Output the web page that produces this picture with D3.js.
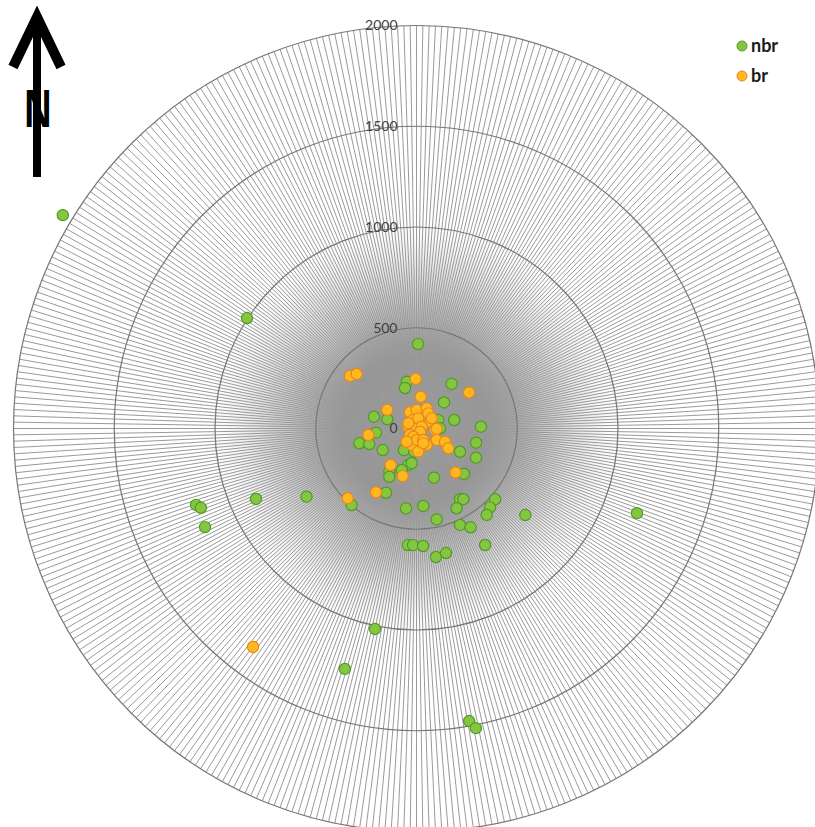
<!DOCTYPE html>
<html>
<head>
<meta charset="utf-8">
<script src="https://cdn.jsdelivr.net/npm/d3@7"></script>
<style>
  html, body { margin: 0; padding: 0; background: #ffffff; }
  svg { display: block; }
</style>
</head>
<body>
<svg id="chart" width="815" height="827"></svg>
<script>
// ---- data (bearing in degrees clockwise from north, distance in axis units) ----
const ringValues = [0, 500, 1000, 1500, 2000];
const ringLabels = ["0", "500", "1000", "1500", "2000"];
const spokeCount = 400;

const nbrBearing = [301.1, 303.1, 1.0, 348.2, 344.1, 38.3, 46.6, 285.5, 287.5, 77.3,
  88.4, 68.7, 89.5, 264.1, 255.5, 251.8, 237.5, 210.2, 185.4, 118.1,
  103.4, 116.1, 192.7, 187.9, 212.2, 209.4, 199.6, 160.4, 133.8, 238.2,
  220.3, 205.4, 187.5, 175.0, 167.5, 148.4, 146.5, 153.3, 132.0, 137.0,
  140.9, 128.5, 155.7, 151.3, 111.0, 149.5, 184.2, 181.7, 176.8, 171.4,
  166.7, 250.9, 249.8, 245.0, 246.3, 191.7, 196.6, 169.8, 168.8];
const nbrDistance = [2050, 1004, 419, 237, 209, 282, 188, 219, 152, 192,
  320, 116, 117, 202, 293, 247, 199, 124, 116, 245,
  304, 329, 186, 174, 253, 275, 219, 259, 326, 642,
  498, 353, 400, 386, 462, 412, 421, 443, 525, 535,
  553, 690, 525, 559, 1172, 671, 580, 579, 584, 645,
  635, 1158, 1140, 1158, 870, 1016, 1245, 1475, 1516];

const brBearing = [308.3, 312.3, 359.1, 55.6, 7.5, 302.4, 262.3, 215.3, 196.2, 138.4,
  224.6, 212.4, 216.8, 338.1, 0.6, 26.8, 339.4, 10.0, 63.3, 282.4,
  266.0, 70.9, 225.0, 164.5, 94.6, 119.7, 114.8, 121.9, 175.1, 196.2,
  148.3, 37.8, 302.4, 132.0, 201.0, 179.0, 149.4, 56.1, 90.6, 175.6,
  155.3, 216.6];
const brDistance = [420, 402, 246, 316, 159, 172, 241, 222, 246, 292,
  486, 375, 1354, 87, 92, 112, 45, 51, 75, 42,
  16, 27, 46, 33, 92, 115, 156, 186, 104, 85,
  96, 95, 48, 24, 44, 57, 66, 91, 100, 115,
  81, 82];

const seriesNames = ["nbr", "br"];
const seriesColors = [
  { fill: "#86c540", stroke: "#4e9a2a" },
  { fill: "#ffb81f", stroke: "#e8871a" }
];

// ---- layout ----
const svg = d3.select("#chart");
const cx = 416.5, cy = 428.5, outerR = 403;

const rScale = d3.scaleLinear().domain([0, 2000]).range([0, outerR]);
const aScale = d3.scaleLinear().domain([0, 360]).range([0, 2 * Math.PI]);
const px = (b, d) => cx + rScale(d) * Math.sin(aScale(b));
const py = (b, d) => cy - rScale(d) * Math.cos(aScale(b));

// radial shading that mimics the dense spoke convergence at the centre
const defs = svg.append("defs");
const grad = defs.append("radialGradient").attr("id", "hub");
grad.append("stop").attr("offset", "0%").attr("stop-color", "#8a8a8a").attr("stop-opacity", 1);
grad.append("stop").attr("offset", "35%").attr("stop-color", "#909090").attr("stop-opacity", 1);
grad.append("stop").attr("offset", "70%").attr("stop-color", "#a8a8a8").attr("stop-opacity", 0.5);
grad.append("stop").attr("offset", "100%").attr("stop-color", "#cfcfcf").attr("stop-opacity", 0);

const g = svg.append("g");

g.append("circle")
  .attr("cx", cx).attr("cy", cy)
  .attr("r", rScale(1000))
  .attr("fill", "url(#hub)");

// spokes
const spokeAngle = d3.scaleLinear().domain([0, spokeCount]).range([0, 360]);
g.append("g").selectAll("line")
  .data(d3.range(spokeCount))
  .join("line")
  .attr("x1", cx).attr("y1", cy)
  .attr("x2", i => px(spokeAngle(i), 2000))
  .attr("y2", i => py(spokeAngle(i), 2000))
  .attr("stroke", "#9a9a9a")
  .attr("stroke-width", 1);

// rings
g.append("g").selectAll("circle")
  .data(ringValues.filter(v => v > 0))
  .join("circle")
  .attr("cx", cx).attr("cy", cy)
  .attr("r", v => rScale(v))
  .attr("fill", "none")
  .attr("stroke", "#777777")
  .attr("stroke-width", 1.2);

// ring labels
g.append("g").selectAll("text")
  .data(ringValues)
  .join("text")
  .attr("x", cx - 19)
  .attr("y", v => cy - rScale(v))
  .attr("dy", "0.35em")
  .attr("text-anchor", "end")
  .attr("font-family", "Lato, 'Open Sans', sans-serif")
  .attr("font-size", 14)
  .attr("fill", "#404040")
  .text((v, i) => ringLabels[i]);

// points
const series = [
  nbrBearing.map((b, i) => ({ b, d: nbrDistance[i] })),
  brBearing.map((b, i) => ({ b, d: brDistance[i] }))
];
series.forEach((pts, si) => {
  g.append("g").selectAll("circle")
    .data(pts)
    .join("circle")
    .attr("cx", p => px(p.b, p.d))
    .attr("cy", p => py(p.b, p.d))
    .attr("r", 5.6)
    .attr("fill", seriesColors[si].fill)
    .attr("stroke", seriesColors[si].stroke)
    .attr("stroke-width", 1.2);
});

// legend
const legend = svg.append("g");
seriesNames.forEach((name, i) => {
  const y = 46 + i * 30;
  legend.append("circle")
    .attr("cx", 742).attr("cy", y).attr("r", 5)
    .attr("fill", seriesColors[i].fill)
    .attr("stroke", seriesColors[i].stroke)
    .attr("stroke-width", 1);
  legend.append("text")
    .attr("x", 751).attr("y", y).attr("dy", "0.35em")
    .attr("font-family", "Lato, 'Open Sans', sans-serif")
    .attr("font-weight", "bold")
    .attr("font-size", 18)
    .attr("fill", "#1a1a1a")
    .text(name);
});

// north arrow
const na = svg.append("g").style("opacity", 0.999);
na.append("line")
  .attr("x1", 37).attr("y1", 22).attr("x2", 37).attr("y2", 177)
  .attr("stroke", "#000").attr("stroke-width", 8);
na.append("path")
  .attr("d", "M13,67 L37,17 L61,67")
  .attr("fill", "none").attr("stroke", "#000")
  .attr("stroke-width", 10).attr("stroke-linejoin", "miter");
na.append("text")
  .attr("transform", "translate(38,127) scale(0.7,1)")
  .attr("text-anchor", "middle")
  .attr("font-family", "'Liberation Sans', Arial, sans-serif")
  .attr("font-weight", "bold")
  .attr("font-size", 54)
  .attr("fill", "#000000")
  .text("N");
</script>
</body>
</html>
